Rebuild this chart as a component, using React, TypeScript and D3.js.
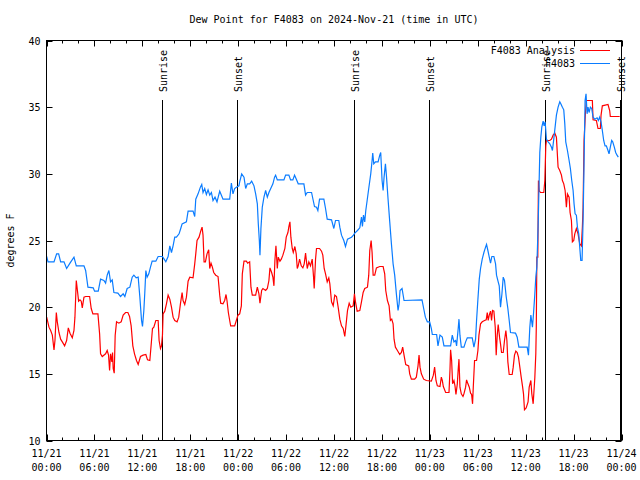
import React from "react";
import * as d3 from "d3";

const title = "Dew Point for F4083 on 2024-Nov-21 (time in UTC)";
const yLabel = "degrees F";
const seriesNames = ["F4083 Analysis", "F4083"];
const seriesColors = ["#ff0000", "#0a7cff"];

const xTickHours = [0, 6, 12, 18, 24, 30, 36, 42, 48, 54, 60, 66, 72];
const xTickDates = ["11/21", "11/21", "11/21", "11/21", "11/22", "11/22", "11/22", "11/22", "11/23", "11/23", "11/23", "11/23", "11/24"];
const xTickTimes = ["00:00", "06:00", "12:00", "18:00", "00:00", "06:00", "12:00", "18:00", "00:00", "06:00", "12:00", "18:00", "00:00"];
const yTicks = [10, 15, 20, 25, 30, 35, 40];

const sunHours = [14.45, 23.85, 38.45, 47.85, 62.45, 71.85];
const sunLabels = ["Sunrise", "Sunset", "Sunrise", "Sunset", "Sunrise", "Sunset"];

// F4083 Analysis (red): [hour since 11/21 00:00 UTC, dew point F]
const analysis: [number, number][] = [
  [0.02, 19.25], [0.31, 18.5], [0.52, 18.25], [0.73, 17.9], [0.94, 16.8], [1.06, 17.5], [1.23, 19.6], [1.35, 18.9],
  [1.56, 18.1], [1.77, 17.6], [1.98, 17.4], [2.27, 17.1], [2.52, 17.5], [2.73, 18.45], [2.94, 18.05], [3.23, 17.7],
  [3.44, 18.25], [3.56, 19.25], [3.73, 22.0], [3.9, 21.1], [4.02, 20.45], [4.19, 20.55], [4.35, 20.45], [4.48, 19.95],
  [4.69, 20.75], [4.9, 20.8], [5.4, 20.8], [5.6, 19.9], [5.81, 19.5], [6.44, 19.5], [6.65, 18.0], [6.77, 16.5],
  [6.98, 16.3], [7.4, 16.5], [7.6, 16.75], [7.77, 16.4], [7.9, 15.25], [8.02, 16.5], [8.19, 15.9], [8.27, 16.6],
  [8.35, 15.4], [8.48, 15.05], [8.6, 17.9], [8.77, 18.9], [9.06, 18.8], [9.35, 18.9], [9.6, 19.4], [9.9, 19.6],
  [10.19, 19.6], [10.4, 19.3], [10.6, 18.6], [10.81, 17.1], [11.02, 16.5], [11.27, 16.0], [11.48, 15.7], [11.77, 16.3],
  [12.1, 16.4], [12.44, 16.45], [12.65, 16.05], [12.94, 16.0], [13.15, 17.5], [13.27, 18.4], [13.44, 18.5], [13.69, 19.0],
  [13.98, 19.0], [14.1, 17.5], [14.27, 16.9], [14.4, 17.1], [14.52, 17.9], [14.6, 19.5], [14.81, 19.7], [15.02, 20.25],
  [15.23, 20.9], [15.44, 20.6], [15.65, 20.0], [15.85, 19.25], [16.06, 19.0], [16.35, 18.9], [16.56, 19.25], [16.77, 20.25],
  [16.98, 21.1], [17.1, 20.5], [17.31, 20.2], [17.52, 20.75], [17.73, 21.95], [17.94, 22.25], [18.35, 22.2], [18.56, 23.25],
  [18.69, 24.0], [18.85, 25.0], [19.1, 25.25], [19.31, 25.7], [19.48, 26.0], [19.6, 25.4], [19.73, 23.4], [19.9, 23.4],
  [20.1, 24.0], [20.31, 24.3], [20.44, 22.9], [20.6, 23.3], [20.77, 23.0], [20.94, 22.6], [21.19, 22.4], [21.48, 22.3],
  [21.69, 20.9], [21.81, 20.3], [22.1, 20.25], [22.31, 20.5], [22.48, 20.95], [22.6, 20.5], [22.77, 19.6], [22.94, 19.0],
  [23.06, 18.6], [23.56, 18.6], [23.77, 19.0], [23.98, 19.4], [24.19, 19.5], [24.4, 20.1], [24.52, 22.5], [24.73, 23.45],
  [25.02, 23.45], [25.19, 23.3], [25.44, 23.4], [25.6, 21.5], [25.77, 20.9], [26.19, 20.9], [26.4, 21.5], [26.6, 21.0],
  [26.73, 20.3], [26.94, 21.25], [27.1, 21.4], [27.44, 21.25], [27.65, 21.4], [27.85, 22.0], [27.98, 22.95], [28.19, 22.6],
  [28.35, 22.25], [28.48, 21.6], [28.6, 23.5], [28.73, 24.6], [28.9, 22.9], [29.02, 23.75], [29.23, 23.45], [29.4, 23.6],
  [29.6, 23.9], [29.85, 24.4], [30.02, 25.25], [30.23, 25.6], [30.35, 26.05], [30.48, 26.4], [30.6, 25.25], [30.77, 24.4],
  [30.9, 24.1], [31.1, 24.55], [31.27, 24.0], [31.4, 22.9], [31.52, 23.1], [31.69, 23.6], [31.9, 23.1], [32.1, 22.95],
  [32.27, 23.25], [32.44, 24.05], [32.65, 22.9], [32.85, 23.4], [33.06, 23.1], [33.27, 23.6], [33.44, 22.25], [33.52, 21.4],
  [33.69, 23.6], [33.81, 24.4], [34.19, 24.4], [34.44, 24.2], [34.6, 23.9], [34.77, 22.9], [34.94, 22.5], [35.15, 21.9],
  [35.35, 22.2], [35.48, 21.75], [35.69, 20.4], [35.9, 20.1], [36.06, 20.75], [36.1, 20.9], [36.31, 20.8], [36.52, 20.0],
  [36.73, 19.1], [36.94, 18.6], [37.15, 18.4], [37.35, 17.8], [37.52, 18.75], [37.69, 19.75], [37.9, 20.3], [38.1, 20.0],
  [38.4, 20.1], [38.56, 21.0], [38.69, 20.4], [38.9, 19.7], [39.23, 19.75], [39.44, 20.4], [39.65, 21.1], [39.85, 21.4],
  [40.19, 21.5], [40.35, 22.4], [40.48, 24.25], [40.65, 25.0], [40.77, 24.1], [40.9, 22.4], [41.1, 22.4], [41.31, 22.95],
  [41.73, 23.05], [42.15, 23.05], [42.35, 22.5], [42.48, 21.25], [42.69, 20.5], [42.9, 20.1], [43.06, 19.0], [43.23, 19.1],
  [43.4, 18.75], [43.52, 17.6], [43.69, 17.0], [43.94, 16.75], [44.23, 16.45], [44.44, 16.6], [44.6, 17.0], [44.77, 16.4],
  [44.98, 15.7], [45.35, 15.6], [45.48, 15.0], [45.69, 14.6], [46.1, 14.6], [46.31, 14.75], [46.52, 15.6], [46.65, 16.4],
  [46.77, 15.5], [46.94, 15.0], [47.23, 14.6], [47.56, 14.5], [48.19, 14.45], [48.44, 14.9], [48.6, 15.5], [48.77, 14.5],
  [48.94, 14.1], [49.27, 14.05], [49.44, 14.75], [49.56, 14.5], [49.69, 14.05], [49.98, 13.6], [50.4, 13.6], [50.52, 15.25],
  [50.6, 16.8], [50.73, 16.0], [50.85, 14.25], [51.02, 14.5], [51.15, 14.1], [51.27, 13.45], [51.44, 14.25], [51.56, 15.4],
  [51.65, 16.1], [51.77, 14.0], [51.94, 13.5], [52.15, 13.3], [52.27, 13.5], [52.48, 14.0], [52.6, 14.55], [52.77, 14.25],
  [52.94, 14.0], [53.1, 13.55], [53.23, 13.45], [53.35, 12.75], [53.44, 14.0], [53.6, 16.0], [53.85, 16.0], [54.02, 16.75],
  [54.15, 17.9], [54.35, 18.75], [54.56, 18.9], [54.85, 19.0], [55.06, 19.05], [55.19, 19.6], [55.31, 19.0], [55.44, 19.4],
  [55.6, 19.7], [55.73, 19.0], [55.85, 19.75], [56.02, 19.7], [56.19, 18.5], [56.31, 16.4], [56.44, 17.9], [56.56, 18.7],
  [56.73, 17.75], [56.85, 17.25], [56.98, 16.6], [57.19, 16.6], [57.35, 17.5], [57.52, 18.25], [57.65, 17.5], [57.77, 15.9],
  [57.94, 14.95], [58.31, 14.95], [58.44, 15.5], [58.6, 16.4], [58.77, 16.7], [58.94, 16.6], [59.1, 16.25], [59.27, 15.5],
  [59.44, 14.75], [59.6, 14.1], [59.73, 13.5], [59.85, 12.3], [60.06, 12.45], [60.3, 12.9], [60.44, 14.0], [60.65, 14.5],
  [60.77, 13.5], [60.94, 12.75], [61.15, 14.75], [61.27, 16.5], [61.33, 18.5], [61.4, 23.75], [61.52, 23.75], [61.6, 29.5],
  [61.69, 28.75], [61.85, 28.6], [62.27, 28.6], [62.4, 29.5], [62.52, 32.1], [62.6, 32.5], [63.02, 32.5], [63.23, 32.6],
  [63.44, 32.9], [63.65, 33.05], [63.85, 32.75], [64.06, 30.5], [64.27, 30.25], [64.48, 29.9], [64.6, 29.5], [64.77, 29.25],
  [64.94, 28.75], [65.1, 27.5], [65.23, 28.5], [65.44, 28.25], [65.56, 27.1], [65.73, 26.5], [65.85, 24.9], [66.02, 25.0],
  [66.15, 25.5], [66.35, 25.9], [66.56, 25.5], [66.77, 24.75], [66.98, 24.6], [67.1, 26.0], [67.19, 27.5], [67.31, 32.5],
  [67.48, 34.5], [67.6, 35.5], [68.35, 35.5], [68.44, 34.05], [68.85, 34.0], [69.06, 33.4], [69.35, 33.4], [69.44, 34.4],
  [69.6, 35.1], [70.31, 35.2], [70.52, 34.75], [70.6, 34.3], [71.77, 34.3],
];

// F4083 observations (blue)
const observed: [number, number][] = [
  [0.02, 23.8], [0.19, 23.4], [0.94, 23.4], [1.27, 24.0], [1.52, 24.0], [1.77, 23.4], [2.19, 23.4], [2.52, 22.9],
  [2.94, 23.3], [3.44, 23.75], [3.73, 23.1], [4.69, 23.1], [4.9, 22.75], [5.19, 21.5], [5.85, 21.45], [6.02, 21.2],
  [6.48, 21.2], [6.77, 22.1], [7.19, 22.0], [7.4, 21.8], [7.6, 22.4], [7.81, 22.75], [8.02, 21.9], [8.23, 22.05],
  [8.44, 21.1], [8.94, 21.05], [9.27, 20.8], [9.6, 21.0], [9.81, 20.8], [10.1, 21.4], [10.44, 21.5], [10.73, 22.25],
  [10.94, 22.4], [11.23, 22.2], [11.48, 22.25], [11.69, 20.75], [11.9, 19.0], [12.02, 18.55], [12.19, 19.75], [12.31, 21.1],
  [12.44, 22.75], [12.6, 22.25], [12.81, 22.5], [13.02, 23.0], [13.23, 23.45], [13.69, 23.45], [13.98, 23.8], [14.52, 23.8],
  [14.73, 23.6], [14.94, 23.4], [15.23, 23.8], [15.44, 24.6], [15.65, 24.1], [15.85, 24.6], [16.06, 25.25], [16.27, 25.25],
  [16.6, 25.5], [16.81, 25.9], [16.98, 26.25], [17.52, 26.4], [17.73, 27.2], [18.35, 27.2], [18.56, 26.8], [18.69, 28.1],
  [18.98, 28.5], [19.27, 29.0], [19.44, 29.2], [19.6, 28.6], [19.81, 28.9], [20.02, 28.45], [20.23, 28.8], [20.44, 28.4],
  [20.65, 28.6], [20.85, 28.0], [21.1, 28.25], [21.35, 27.9], [21.69, 28.7], [21.9, 28.4], [22.1, 28.1], [22.94, 28.1],
  [23.15, 29.3], [23.35, 28.5], [23.56, 28.9], [23.77, 29.0], [24.1, 29.1], [24.19, 29.4], [24.44, 30.0], [24.73, 29.75],
  [24.94, 28.9], [25.15, 29.25], [25.44, 29.25], [25.69, 29.45], [25.98, 29.1], [26.19, 28.5], [26.4, 27.75], [26.52, 26.25],
  [26.65, 25.0], [26.73, 23.9], [26.85, 25.9], [27.02, 27.5], [27.23, 28.25], [27.44, 28.75], [27.65, 28.25], [27.85, 28.6],
  [28.15, 29.0], [28.35, 29.25], [28.56, 29.75], [28.69, 29.9], [28.9, 29.55], [29.73, 29.55], [29.94, 29.9], [30.35, 29.9],
  [30.56, 29.55], [30.85, 29.55], [31.06, 29.9], [31.31, 29.55], [31.52, 29.25], [32.23, 29.25], [32.44, 28.4], [32.65, 28.6],
  [33.19, 28.6], [33.4, 28.0], [33.56, 27.55], [33.81, 27.5], [33.98, 27.25], [34.19, 28.1], [34.73, 28.1], [34.94, 27.4],
  [35.15, 26.6], [35.69, 26.55], [35.98, 25.9], [36.19, 26.5], [36.6, 26.5], [36.73, 26.0], [36.94, 25.4], [37.23, 25.0],
  [37.44, 24.55], [37.69, 25.1], [38.19, 25.25], [38.44, 25.4], [38.6, 25.55], [38.94, 25.75], [39.23, 25.95], [39.44, 26.75],
  [39.56, 26.05], [39.69, 26.9], [39.85, 26.4], [39.98, 27.25], [40.15, 28.0], [40.35, 28.9], [40.6, 30.0], [40.77, 31.0],
  [40.85, 31.55], [40.98, 30.75], [41.19, 30.9], [41.52, 30.9], [41.73, 31.4], [41.85, 31.6], [42.02, 29.5], [42.15, 28.75],
  [42.27, 29.75], [42.44, 30.75], [42.56, 29.9], [42.77, 28.1], [42.98, 26.4], [43.19, 24.75], [43.4, 23.25], [43.6, 22.4],
  [43.81, 21.0], [44.02, 19.75], [44.15, 20.25], [44.27, 21.25], [44.52, 21.4], [44.77, 20.5], [47.02, 20.55], [47.23, 19.9],
  [47.44, 19.25], [47.69, 18.9], [47.98, 18.9], [48.19, 18.4], [48.31, 17.95], [48.85, 17.95], [49.02, 17.1], [49.27, 17.9],
  [49.56, 17.75], [49.77, 17.1], [50.6, 17.1], [50.81, 17.9], [51.02, 17.4], [51.23, 17.5], [51.35, 17.1], [51.56, 18.45],
  [51.65, 19.1], [51.77, 17.9], [51.94, 17.0], [52.27, 17.0], [52.48, 17.4], [52.69, 17.7], [53.31, 17.7], [53.52, 17.0],
  [53.73, 17.6], [53.85, 19.0], [54.02, 20.6], [54.19, 22.1], [54.35, 22.9], [54.56, 23.6], [54.77, 24.1], [54.98, 24.5],
  [55.1, 24.7], [55.27, 24.25], [55.44, 23.75], [55.6, 23.3], [55.77, 23.8], [56.02, 23.8], [56.23, 23.25], [56.35, 22.4],
  [56.56, 21.9], [56.69, 21.6], [56.85, 20.0], [57.02, 20.95], [57.19, 22.25], [57.35, 22.0], [57.56, 20.8], [57.77, 19.9],
  [57.94, 19.0], [58.1, 18.1], [58.73, 18.05], [58.94, 17.75], [59.15, 17.0], [60.19, 17.0], [60.35, 16.4], [60.52, 18.5],
  [60.65, 19.4], [60.85, 18.5], [60.98, 19.5], [61.15, 21.0], [61.27, 22.25], [61.4, 23.0], [61.56, 26.1], [61.69, 29.5],
  [61.77, 31.6], [61.9, 32.75], [62.02, 33.5], [62.19, 33.95], [62.31, 33.6], [62.44, 33.9], [62.6, 32.6], [62.81, 32.4],
  [63.02, 32.25], [63.23, 32.0], [63.35, 31.75], [63.52, 32.6], [63.73, 33.75], [63.85, 34.4], [64.06, 35.0], [64.27, 35.4],
  [64.4, 35.25], [64.6, 35.0], [64.77, 34.8], [64.9, 33.75], [65.02, 32.4], [65.23, 31.75], [65.44, 31.0], [65.6, 30.4],
  [65.77, 29.5], [65.94, 28.75], [66.06, 27.75], [66.19, 27.0], [66.35, 26.9], [66.48, 26.0], [66.65, 25.5], [66.77, 24.5],
  [66.9, 23.5], [67.06, 23.5], [67.19, 26.5], [67.31, 30.75], [67.44, 35.5], [67.56, 36.0], [67.69, 34.5], [67.81, 35.0],
  [67.94, 34.6], [68.1, 35.0], [68.27, 34.9], [68.44, 34.25], [68.65, 34.1], [68.94, 34.2], [69.1, 34.0], [69.27, 34.25],
  [69.44, 33.9], [69.6, 33.25], [69.77, 32.5], [69.94, 32.1], [70.1, 32.1], [70.31, 31.75], [70.44, 31.5], [70.6, 32.0],
  [70.77, 32.5], [70.9, 32.4], [71.1, 32.0], [71.27, 31.6], [71.44, 31.4], [71.6, 31.25],
];

const FONT = "'DejaVu Sans Mono', monospace";

export default function App() {
  const W = 640, H = 480;
  const left = 46.5, right = 621.5, top = 40.5, bottom = 440.5;
  const x = d3.scaleLinear().domain([0, 72]).range([left, right]);
  const y = d3.scaleLinear().domain([10, 40]).range([bottom, top]);
  const line = d3.line<[number, number]>().x(d => x(d[0])).y(d => y(d[1]));
  const minorHours = d3.range(0, 73, 2).filter(h => h % 6 !== 0);

  return (
    <svg width={W} height={H} style={{ position: "absolute", left: 0, top: 0, background: "#fff" }}
      fontFamily={FONT} fontSize={10}>
      <rect x={0} y={0} width={W} height={H} fill="#fff" />
      <text x={(left + right) / 2} y={23} textAnchor="middle">{title}</text>
      <text transform={`translate(14,${(top + bottom) / 2}) rotate(-90)`} textAnchor="middle">{yLabel}</text>

      {/* y ticks */}
      {yTicks.map(v => (
        <g key={"y" + v}>
          <line x1={left} x2={left + 6} y1={Math.round(y(v)) + 0.5} y2={Math.round(y(v)) + 0.5} stroke="#000" />
          <line x1={right - 6} x2={right} y1={Math.round(y(v)) + 0.5} y2={Math.round(y(v)) + 0.5} stroke="#000" />
          <text x={left - 6} y={y(v) + 4} textAnchor="end">{v}</text>
        </g>
      ))}
      {/* x ticks */}
      {xTickHours.map((h, i) => (
        <g key={"x" + h}>
          <line x1={Math.round(x(h)) + 0.5} x2={Math.round(x(h)) + 0.5} y1={bottom} y2={bottom - 6} stroke="#000" />
          <line x1={Math.round(x(h)) + 0.5} x2={Math.round(x(h)) + 0.5} y1={top} y2={top + 6} stroke="#000" />
          <text x={x(h)} y={457} textAnchor="middle">{xTickDates[i]}</text>
          <text x={x(h)} y={471} textAnchor="middle">{xTickTimes[i]}</text>
        </g>
      ))}
      {minorHours.map(h => (
        <g key={"m" + h}>
          <line x1={Math.round(x(h)) + 0.5} x2={Math.round(x(h)) + 0.5} y1={bottom} y2={bottom - 3} stroke="#000" />
          <line x1={Math.round(x(h)) + 0.5} x2={Math.round(x(h)) + 0.5} y1={top} y2={top + 3} stroke="#000" />
        </g>
      ))}

      {/* sunrise / sunset */}
      {sunHours.map((h, i) => {
        const px = Math.round(x(h)) + 0.5;
        return (
          <g key={"s" + i}>
            <line x1={px} x2={px} y1={100} y2={bottom} stroke="#000" />
            <text transform={`translate(${px + 4},92) rotate(-90)`} textAnchor="start">{sunLabels[i]}</text>
          </g>
        );
      })}

      {/* data */}
      <path d={line(analysis) || ""} fill="none" stroke={seriesColors[0]} strokeWidth={1.2} />
      <path d={line(observed) || ""} fill="none" stroke={seriesColors[1]} strokeWidth={1.2} />

      {/* legend */}
      <text x={575} y={54} textAnchor="end">{seriesNames[0]}</text>
      <line x1={580} x2={610} y1={50.5} y2={50.5} stroke={seriesColors[0]} />
      <text x={575} y={67} textAnchor="end">{seriesNames[1]}</text>
      <line x1={580} x2={610} y1={63.5} y2={63.5} stroke={seriesColors[1]} />

      <rect x={left} y={top} width={right - left} height={bottom - top} fill="none" stroke="#000" />
    </svg>
  );
}
